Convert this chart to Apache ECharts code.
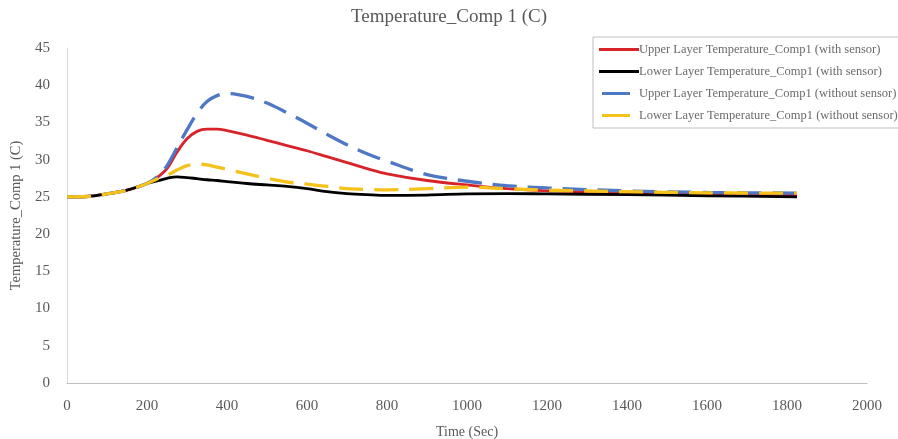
<!DOCTYPE html>
<html>
<head>
<meta charset="utf-8">
<script src="https://cdn.jsdelivr.net/npm/echarts@6/dist/echarts.min.js"></script>
<style>html,body{margin:0;padding:0;background:#fff;}#c{width:898px;height:439px;}</style>
</head>
<body>
<div id="c"></div>
<script>
var timeSec = [0,50,100,150,200,230,250,275,300,325,350,375,400,450,500,550,600,650,700,750,800,900,1000,1100,1200,1400,1600,1825];
var upperWith = [25,25.05,25.4,25.9,26.8,27.8,28.8,31.0,32.8,33.8,34.1,34.1,33.9,33.3,32.6,31.9,31.2,30.4,29.6,28.8,28.1,27.2,26.6,26.1,25.8,25.5,25.35,25.25];
var lowerWith = [25,25.05,25.4,25.9,26.8,27.2,27.5,27.7,27.6,27.45,27.3,27.2,27.05,26.8,26.6,26.4,26.1,25.7,25.45,25.3,25.2,25.25,25.4,25.45,25.4,25.3,25.15,25.0];
var upperWithout = [25,25.05,25.4,25.9,26.8,27.9,29.2,31.6,34.0,36.2,37.8,38.6,38.9,38.5,37.6,36.3,34.9,33.4,32.0,30.8,29.8,28.0,27.1,26.5,26.2,25.8,25.6,25.5];
var lowerWithout = [25,25.05,25.4,25.9,26.8,27.5,27.9,28.6,29.2,29.4,29.3,29.0,28.7,28.1,27.5,27.0,26.7,26.4,26.1,26.0,25.95,26.1,26.3,26.1,25.9,25.7,25.55,25.5];
var seriesNames = [
  'Upper Layer Temperature_Comp1 (with sensor)',
  'Lower Layer Temperature_Comp1 (with sensor)',
  'Upper Layer Temperature_Comp1 (without sensor)',
  'Lower Layer Temperature_Comp1 (without sensor)'
];
var titleText = 'Temperature_Comp 1 (C)';
var xName = 'Time (Sec)';
var yName = 'Temperature_Comp 1 (C)';

function pairs(vals){ return timeSec.map(function(t,i){ return [t, vals[i]]; }); }

var FONT = '"Liberation Serif", "DejaVu Serif", serif';
var colors = ['#d8232a', '#000000', '#4f78c4', '#f5c21b'];
var solidIcon = 'path://M0,0 H40 V3 H0 Z';
var shortIcon = 'path://M0,1.5 L0.01,1.5 M3,0 H31 V3 H3 Z M40,1.5 L39.99,1.5';

var chart = echarts.init(document.getElementById('c'), null, {renderer:'canvas'});
chart.setOption({
  backgroundColor: '#ffffff',
  animation: false,
  title: {
    text: titleText, left: 'center', top: 3,
    textStyle: {fontFamily: FONT, fontSize: 19, fontWeight: 'normal', color: '#595959'}
  },
  legend: {
    orient: 'vertical', left: 593, top: 37,
    padding: [6, 14, 6, 6],
    borderColor: '#bfbfbf', borderWidth: 1, borderRadius: 0,
    itemWidth: 40, itemHeight: 3, itemGap: 9,
    textStyle: {fontFamily: FONT, fontSize: 12.5, color: '#6b6b6b', padding: [0,0,0,-5]},
    data: [
      {name: seriesNames[0], icon: solidIcon},
      {name: seriesNames[1], icon: solidIcon},
      {name: seriesNames[2], icon: shortIcon},
      {name: seriesNames[3], icon: shortIcon}
    ]
  },
  grid: {left: 67, right: 31, top: 48, bottom: 56, containLabel: false, outerBoundsMode: 'none'},
  xAxis: {
    type: 'value', min: 0, max: 2000, interval: 200,
    name: xName, nameLocation: 'middle', nameGap: 42,
    nameTextStyle: {fontFamily: FONT, fontSize: 14, color: '#595959'},
    axisLine: {show: true, lineStyle: {color: '#bfbfbf', width: 1}},
    axisTick: {show: false},
    splitLine: {show: false},
    axisLabel: {fontFamily: FONT, fontSize: 15, color: '#595959', margin: 16,
      formatter: function(v){ return String(v); }}
  },
  yAxis: {
    type: 'value', min: 0, max: 45, interval: 5,
    name: yName, nameLocation: 'middle', nameGap: 42, nameRotate: 90,
    nameTextStyle: {fontFamily: FONT, fontSize: 14.5, color: '#595959'},
    axisLine: {show: true, lineStyle: {color: '#d9d9d9', width: 1}},
    axisTick: {show: false},
    splitLine: {show: false},
    axisLabel: {fontFamily: FONT, fontSize: 15, color: '#595959', margin: 17}
  },
  series: [
    {name: seriesNames[0], type: 'line', data: pairs(upperWith), smooth: 0.35, showSymbol: false,
     itemStyle: {color: colors[0]}, lineStyle: {color: colors[0], width: 2.8}},
    {name: seriesNames[1], type: 'line', data: pairs(lowerWith), smooth: 0.35, showSymbol: false,
     itemStyle: {color: colors[1]}, lineStyle: {color: colors[1], width: 2.8}},
    {name: seriesNames[2], type: 'line', data: pairs(upperWithout), smooth: 0.35, showSymbol: false,
     itemStyle: {color: colors[2]}, lineStyle: {color: colors[2], width: 3.3, type: [24, 11]}},
    {name: seriesNames[3], type: 'line', data: pairs(lowerWithout), smooth: 0.35, showSymbol: false,
     itemStyle: {color: colors[3]}, lineStyle: {color: colors[3], width: 3.3, type: [24, 11]}}
  ]
});
</script>
</body>
</html>
